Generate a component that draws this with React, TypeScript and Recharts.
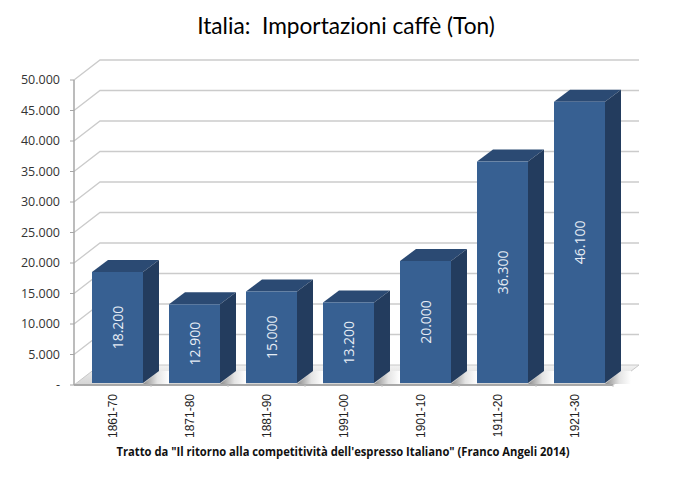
import { Bar, BarChart, CartesianGrid, LabelList, XAxis, YAxis } from 'recharts'

const PERIODS = ['1861-70', '1871-80', '1881-90', '1991-00', '1901-10', '1911-20', '1921-30']
const IMPORTS = [18200, 12900, 15000, 13200, 20000, 36300, 46100]
const Y_TICKS = [0, 5000, 10000, 15000, 20000, 25000, 30000, 35000, 40000, 45000, 50000]

const TITLE = 'Italia:  Importazioni caffè (Ton)'
const SOURCE = 'Tratto da "Il ritorno alla competitività dell\'espresso Italiano" (Franco Angeli 2014)'

const data = PERIODS.map((period, i) => ({ period, value: IMPORTS[i] }))

// spostamento del piano di fondo rispetto agli assi
const WALL_DX = 26
const WALL_DY = -20
const BAR_DX = 16
const BAR_DY = -12
const BAR_SHIFT_X = 5
const BAR_SHIFT_Y = -2
const BAR_GAP = 26
const BAND = 77

const formatTick = (v: number) => (v === 0 ? '-' : v.toLocaleString('de-DE'))

function GridLine(props: any) {
  const { x1, x2, y1 } = props
  if (y1 > 380) {
    // pavimento
    return (
      <g>
        <polygon
          points={`${x1},${y1} ${x1 + WALL_DX},${y1 + WALL_DY} ${x2 + WALL_DX},${y1 + WALL_DY} ${x2},${y1}`}
          fill="url(#floorFill)"
          stroke="#c8c8c8"
          strokeWidth={1}
        />
        <line x1={x1} y1={y1} x2={x2} y2={y1} stroke="#a6a6a6" strokeWidth={1.5} />
      </g>
    )
  }
  return (
    <path
      d={`M${x1},${y1} L${x1 + WALL_DX},${y1 + WALL_DY} L${x2 + WALL_DX},${y1 + WALL_DY}`}
      fill="none"
      stroke="#cbcbcb"
      strokeWidth={1.3}
    />
  )
}

function Box3D(props: any) {
  const { x, y, width, height } = props
  const l = x + BAR_SHIFT_X
  const r = l + width
  const t = y + BAR_SHIFT_Y
  const b = t + height
  return (
    <g>
      {/* ombra sul pavimento */}
      <polygon
        points={`${r},${b + 1} ${r + BAR_DX},${b + BAR_DY} ${r + BAR_GAP},${b + BAR_DY} ${r + BAR_GAP},${b + 1}`}
        fill="url(#floorShadow)"
      />
      <polygon
        points={`${l},${t} ${l + BAR_DX},${t + BAR_DY} ${r + BAR_DX},${t + BAR_DY} ${r},${t}`}
        fill="#2b4a73"
      />
      <polygon
        points={`${r},${t} ${r + BAR_DX},${t + BAR_DY} ${r + BAR_DX},${b + BAR_DY} ${r},${b}`}
        fill="#233c5e"
      />
      <rect x={l} y={t} width={width} height={height} fill="#376092" />
    </g>
  )
}

function BarValue(props: any) {
  const { x, y, width, height, value } = props
  const cx = x + BAR_SHIFT_X + width / 2
  const cy = y + BAR_SHIFT_Y + height / 2
  return (
    <text
      x={cx}
      y={cy}
      transform={`rotate(-90 ${cx} ${cy})`}
      textAnchor="middle"
      dominantBaseline="central"
      fill="#e6edf5"
      fontSize={14}
      fontFamily="'Open Sans', sans-serif"
    >
      {formatTick(value)}
    </text>
  )
}

function PeriodTick(props: any) {
  const { x, y, payload } = props
  const top = y + 1
  return (
    <g>
      <line x1={x + BAND / 2} y1={385} x2={x + BAND / 2} y2={387} stroke="#c8c8c8" />
      <text
        x={x}
        y={top}
        transform={`rotate(-90 ${x} ${top})`}
        textAnchor="end"
        dominantBaseline="central"
        fill="#222"
        fontSize={12}
        fontFamily="'Liberation Sans', Arial, sans-serif"
      >
        {payload.value}
      </text>
    </g>
  )
}

export default function App() {
  return (
    <div style={{ position: 'absolute', left: 0, top: 0, width: 692, height: 482, background: '#fff' }}>
      <BarChart
        width={692}
        height={482}
        data={data}
        margin={{ top: 80, right: 79, bottom: 0, left: 0 }}
        barSize={51}
      >
        <defs>
          <linearGradient id="floorShadow" x1="0" y1="0" x2="1" y2="0">
            <stop offset="0%" stopColor="#8a8a8a" />
            <stop offset="55%" stopColor="#e4e4e4" />
            <stop offset="100%" stopColor="#ffffff" />
          </linearGradient>
          <linearGradient id="floorFill" x1="0" y1="0" x2="0" y2="1">
            <stop offset="0%" stopColor="#f2f2f2" />
            <stop offset="100%" stopColor="#d4d4d4" />
          </linearGradient>
        </defs>
        <text
          x={346}
          y={34}
          textAnchor="middle"
          fontSize={22.7}
          fill="#000"
          fontFamily="Lato, sans-serif"
          style={{ whiteSpace: 'pre' }}
        >
          {TITLE}
        </text>
        <text
          x={343}
          y={456}
          textAnchor="middle"
          fontSize={12}
          fontWeight={700}
          fill="#111"
          fontFamily="'Open Sans', sans-serif"
          textLength={453}
          lengthAdjust="spacingAndGlyphs"
        >
          {SOURCE}
        </text>
        <CartesianGrid vertical={false} horizontal={<GridLine />} />
        <XAxis
          dataKey="period"
          height={97}
          interval={0}
          tick={<PeriodTick />}
          tickLine={false}
          axisLine={{ stroke: '#a6a6a6', strokeWidth: 1.5 }}
        />
        <YAxis
          width={74}
          domain={[0, 50000]}
          ticks={Y_TICKS}
          interval={0}
          tickFormatter={formatTick}
          tick={{ fill: '#333', fontSize: 12.5, fontFamily: "'Open Sans', sans-serif" }}
          tickLine={{ stroke: '#a6a6a6' }}
          tickSize={4}
          tickMargin={10}
          axisLine={{ stroke: '#a6a6a6', strokeWidth: 1.5 }}
        />
        <Bar dataKey="value" shape={<Box3D />} isAnimationActive={false}>
          <LabelList dataKey="value" content={<BarValue />} />
        </Bar>
      </BarChart>
    </div>
  )
}
